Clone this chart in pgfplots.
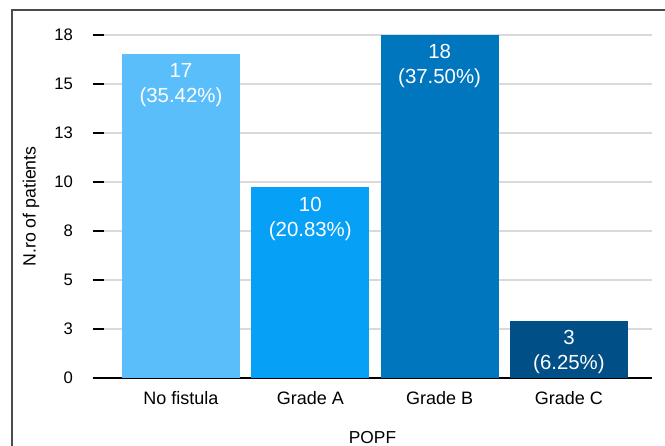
\documentclass[border=0pt]{standalone}
\usepackage{fontspec}
\setmainfont{Liberation Sans}
\usepackage{pgfplots}
\pgfplotsset{compat=1.18}
\definecolor{cNo}{HTML}{5ABEFA}
\definecolor{cA}{HTML}{06A0F7}
\definecolor{cB}{HTML}{0076BE}
\definecolor{cC}{HTML}{005087}
\definecolor{gridc}{HTML}{D9D9D9}
\begin{document}
\begin{tikzpicture}
\useasboundingbox (0,0) rectangle (498.75pt,334.5pt);
\draw[color=black!70, line width=1.5pt] (9pt,-2pt) -- (9pt,327pt) -- (500pt,327pt);
\begin{axis}[
  at={(69.75pt,51pt)}, anchor=south west,
  scale only axis, width=419.25pt, height=257.25pt,
  xmin=-0.680, xmax=3.642, ymin=0, ymax=18,
  axis x line=bottom, axis y line=left,
  x axis line style={-, black, line width=1.3pt},
  y axis line style={draw=none},
  xtick={0,1,2,3},
  xticklabels={No fistula, Grade A, Grade B, Grade C},
  xtick style={draw=none},
  xticklabel style={font=\fontsize{13.5pt}{16pt}\selectfont, yshift=2pt},
  ytick={0,2.5714,5.1429,7.7143,10.2857,12.8571,15.4286,18},
  yticklabels={0,3,5,8,10,13,15,18},
  /pgf/number format/assume math mode=true,
  ytick style={black, line width=1.3pt},
  tick align=inside,
  major tick length=8.25pt,
  yticklabel style={font=\fontsize{12.5pt}{15pt}\selectfont, anchor=east, xshift=-11.5pt},
  ymajorgrids, major grid style={gridc, line width=1pt},
  ylabel={N.ro of patients},
  ylabel style={at={(axis description cs:-0.1109,0.5)}, anchor=center, font=\fontsize{13.3pt}{16pt}\selectfont},
  xlabel={POPF},
  xlabel style={at={(axis description cs:0.5,0)}, anchor=base, yshift=-49.5pt, font=\fontsize{13pt}{16pt}\selectfont},
  ybar, bar width=88.5pt, bar shift=0pt,
  point meta=explicit symbolic,
  nodes near coords,
  every node near coord/.append style={anchor=north, inner sep=0pt, yshift=-7pt, align=center, text=white, font=\fontsize{15.3pt}{18.75pt}\selectfont},
]
\addplot[fill=cNo, draw=none] coordinates {(0,17) [{17\\(35.42\%)}]};
\addplot[fill=cA, draw=none] coordinates {(1,10) [{10\\(20.83\%)}]};
\addplot[fill=cB, draw=none] coordinates {(2,18) [{18\\(37.50\%)}]};
\addplot[fill=cC, draw=none] coordinates {(3,3) [{3\\(6.25\%)}]};
\end{axis}
\end{tikzpicture}
\end{document}
